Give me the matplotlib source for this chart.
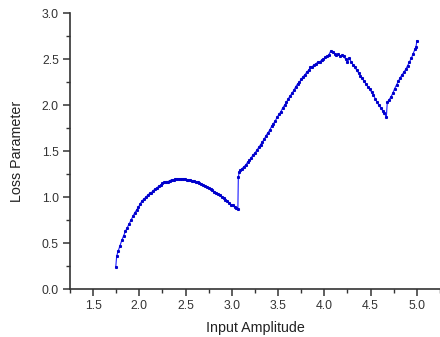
import matplotlib
matplotlib.use('Agg')
import matplotlib.pyplot as plt
from matplotlib.ticker import MultipleLocator

plt.rcParams['font.family'] = ['Liberation Sans', 'DejaVu Sans']

# lower branch (before first jump)
x1 = [1.745, 1.755, 1.77, 1.79, 1.81, 1.83, 1.85, 1.87, 1.89, 1.91, 1.93, 1.95, 1.97, 1.99,
      2.01, 2.03, 2.05, 2.07, 2.09, 2.11, 2.13, 2.15, 2.17, 2.19, 2.21, 2.23, 2.25, 2.27, 2.29,
      2.31, 2.33, 2.35, 2.37, 2.39, 2.41, 2.43, 2.45, 2.47, 2.49, 2.51, 2.53, 2.55, 2.57, 2.59,
      2.61, 2.63, 2.65, 2.67, 2.69, 2.71, 2.73, 2.75, 2.77, 2.79, 2.81, 2.83, 2.85, 2.87, 2.89,
      2.91, 2.93, 2.95, 2.97, 2.99, 3.01, 3.03, 3.05, 3.065]
y1 = [0.24, 0.36, 0.41, 0.47, 0.53, 0.58, 0.63, 0.67, 0.71, 0.75, 0.79, 0.83, 0.86, 0.89,
      0.93, 0.96, 0.98, 1.00, 1.02, 1.04, 1.05, 1.07, 1.09, 1.10, 1.12, 1.13, 1.15, 1.16, 1.17,
      1.17, 1.18, 1.19, 1.19, 1.20, 1.20, 1.20, 1.20, 1.20, 1.20, 1.19, 1.19, 1.19, 1.18, 1.18,
      1.17, 1.16, 1.15, 1.14, 1.13, 1.12, 1.11, 1.10, 1.09, 1.08, 1.06, 1.05, 1.03, 1.02, 1.00,
      0.99, 0.97, 0.96, 0.94, 0.92, 0.91, 0.89, 0.88, 0.87]

# middle branch
x2 = [3.07, 3.08, 3.09, 3.11, 3.13, 3.15, 3.17, 3.19, 3.21, 3.23, 3.25, 3.27, 3.29, 3.31,
      3.33, 3.35, 3.37, 3.39, 3.41, 3.43, 3.45, 3.47, 3.49, 3.51, 3.53, 3.55, 3.57, 3.59, 3.61,
      3.63, 3.65, 3.67, 3.69, 3.71, 3.73, 3.75, 3.77, 3.79, 3.81, 3.83, 3.85, 3.87, 3.89, 3.91,
      3.93, 3.95, 3.97, 3.99, 4.01, 4.03, 4.05, 4.07, 4.09, 4.11, 4.13, 4.15, 4.17, 4.19, 4.21,
      4.23, 4.25, 4.27, 4.29, 4.31, 4.33, 4.35, 4.37, 4.39, 4.41, 4.43, 4.45, 4.47, 4.49, 4.51,
      4.53, 4.55, 4.57, 4.59, 4.61, 4.63, 4.65, 4.67]
y2 = [1.22, 1.27, 1.29, 1.31, 1.33, 1.35, 1.38, 1.40, 1.43, 1.46, 1.48, 1.51, 1.54, 1.57,
      1.60, 1.63, 1.67, 1.70, 1.73, 1.77, 1.80, 1.83, 1.87, 1.90, 1.93, 1.97, 2.00, 2.03, 2.07,
      2.10, 2.13, 2.16, 2.20, 2.23, 2.25, 2.28, 2.31, 2.33, 2.36, 2.38, 2.41, 2.42, 2.44, 2.45,
      2.47, 2.47, 2.49, 2.50, 2.52, 2.53, 2.55, 2.59, 2.58, 2.56, 2.54, 2.56, 2.53, 2.54, 2.53,
      2.50, 2.47, 2.51, 2.47, 2.44, 2.41, 2.38, 2.35, 2.32, 2.29, 2.26, 2.23, 2.20, 2.18, 2.14,
      2.11, 2.07, 2.03, 2.00, 1.97, 1.94, 1.91, 1.87]

# upper branch
x3 = [4.68, 4.70, 4.72, 4.74, 4.76, 4.78, 4.80, 4.82, 4.84, 4.86, 4.88, 4.90, 4.92, 4.94,
      4.96, 4.98, 4.99, 5.00]
y3 = [2.03, 2.06, 2.09, 2.13, 2.18, 2.22, 2.26, 2.30, 2.33, 2.36, 2.39, 2.43, 2.47, 2.51,
      2.56, 2.61, 2.63, 2.70]

x = x1 + x2 + x3
y = y1 + y2 + y3

fig = plt.figure(figsize=(4.4, 3.37), dpi=100)
ax = fig.add_axes([0.159, 0.142, 0.841, 0.819])
ax.plot(x, y, color='#1a1aff', lw=0.8, marker='s', ms=1.2, mec='#0000cc', mfc='#0000cc')

ax.set_xlim(1.25, 5.25)
ax.set_ylim(0, 3.0)
ax.xaxis.set_major_locator(MultipleLocator(0.5))
ax.xaxis.set_minor_locator(MultipleLocator(0.25))
ax.yaxis.set_major_locator(MultipleLocator(0.5))
ax.yaxis.set_minor_locator(MultipleLocator(0.25))
ax.set_xticks([1.5, 2.0, 2.5, 3.0, 3.5, 4.0, 4.5, 5.0])

for s in ['top', 'right']:
    ax.spines[s].set_visible(False)
for s in ['left', 'bottom']:
    ax.spines[s].set_color('#333333')
    ax.spines[s].set_linewidth(1.2)

ax.tick_params(which='major', direction='out', length=5, width=1.1, color='#333333',
               labelsize=8.8, labelcolor='#333333', pad=3)
ax.tick_params(which='minor', direction='out', length=3, width=1.0, color='#333333')

ax.set_xlabel('Input Amplitude', fontsize=10.3, color='#222222', labelpad=6)
ax.set_ylabel('Loss Parameter', fontsize=10.3, color='#222222', labelpad=13)

fig.savefig('out.png', dpi=100)
